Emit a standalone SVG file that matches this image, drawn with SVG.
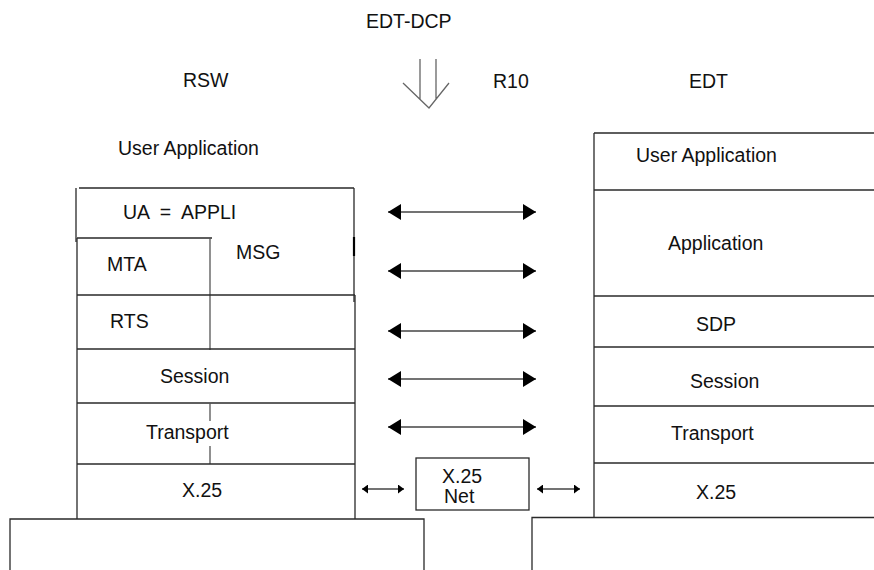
<svg xmlns="http://www.w3.org/2000/svg" width="874" height="570" viewBox="0 0 874 570">
<style>
text{font-family:"Liberation Sans",Arial,sans-serif;font-size:19.5px;fill:#111}
.ln{stroke:#2a2a2a;stroke-width:1.3;fill:none}
.dv{stroke:#555;stroke-width:1.3;fill:none}
.ar{stroke:#444;stroke-width:1.6;fill:none}
.dn{stroke:#666;stroke-width:1.3;fill:none}
</style>
<defs>
<marker id="ah" markerUnits="userSpaceOnUse" markerWidth="13" markerHeight="16" refX="13" refY="8" orient="auto-start-reverse"><path d="M0,0 L13,8 L0,16 Z" fill="#000"/></marker>
<marker id="ahs" markerUnits="userSpaceOnUse" markerWidth="6" markerHeight="9" refX="6" refY="4.5" orient="auto-start-reverse"><path d="M0,0 L6,4.5 L0,9 Z" fill="#000"/></marker>
</defs>
<rect width="874" height="570" fill="#fff"/>

<g id="titles">
<text x="366" y="28">EDT-DCP</text>
<text x="183" y="87">RSW</text>
<text x="493" y="88">R10</text>
<text x="689" y="88">EDT</text>
<text x="118" y="155">User Application</text>
</g>

<g id="rsw-ua">
<path class="ln" d="M79,188 H354 M76,188 V242 M354,188 V302"/>
<path d="M354,237 V256" stroke="#000" stroke-width="2.2"/>
<text x="123" y="219" xml:space="preserve">UA  =  APPLI</text>
</g>
<g id="rsw-mta">
<path class="ln" d="M77,238 H212 M77,238 V519"/>
<path class="dv" d="M210,238 V350"/>
<text x="107" y="271">MTA</text>
</g>
<g id="rsw-msg">
<text x="236" y="259">MSG</text>
</g>
<g id="rsw-rts">
<path class="ln" d="M77,295 H355 M355,295 V519"/>
<text x="110" y="328">RTS</text>
</g>
<g id="rsw-session">
<path class="ln" d="M77,349 H355"/>
<text x="160" y="383">Session</text>
</g>
<g id="rsw-transport">
<path class="ln" d="M77,403 H355"/>
<path class="dv" d="M210,403 V421 M210,446 V464"/>
<text x="146" y="439">Transport</text>
</g>
<g id="rsw-x25">
<path class="ln" d="M77,464 H355"/>
<text x="182" y="497">X.25</text>
</g>
<g id="rsw-base">
<path class="ln" d="M10,570 V519 H424 V570"/>
</g>

<g id="edt-ua">
<path class="ln" d="M594,133 H874 M594,133 V518"/>
<text x="636" y="162">User Application</text>
</g>
<g id="edt-application">
<path class="ln" d="M594,190 H874"/>
<text x="668" y="250">Application</text>
</g>
<g id="edt-sdp">
<path class="ln" d="M594,296 H874"/>
<text x="696" y="331">SDP</text>
</g>
<g id="edt-session">
<path class="ln" d="M594,347 H874"/>
<text x="690" y="388">Session</text>
</g>
<g id="edt-transport">
<path class="ln" d="M594,406 H874"/>
<text x="671" y="440">Transport</text>
</g>
<g id="edt-x25">
<path class="ln" d="M594,463 H874"/>
<text x="696" y="499">X.25</text>
</g>
<g id="edt-base">
<path class="ln" d="M532,570 V517.5 H874"/>
</g>

<g id="x25-net">
<rect class="ln" x="416" y="458" width="113" height="52"/>
<text x="442" y="483">X.25</text>
<text x="444" y="503">Net</text>
</g>

<g id="connectors">
<path class="dn" d="M420,59 V99 M436,59 V99 M403,83 L429,108 L449,83"/>
<line class="ar" x1="388" y1="212" x2="536" y2="212" marker-start="url(#ah)" marker-end="url(#ah)"/>
<line class="ar" x1="388" y1="271" x2="536" y2="271" marker-start="url(#ah)" marker-end="url(#ah)"/>
<line class="ar" x1="388" y1="331" x2="536" y2="331" marker-start="url(#ah)" marker-end="url(#ah)"/>
<line class="ar" x1="388" y1="379" x2="536" y2="379" marker-start="url(#ah)" marker-end="url(#ah)"/>
<line class="ar" x1="388" y1="427" x2="536" y2="427" marker-start="url(#ah)" marker-end="url(#ah)"/>
<line class="ar" x1="362" y1="489" x2="404" y2="489" marker-start="url(#ahs)" marker-end="url(#ahs)"/>
<line class="ar" x1="537" y1="489" x2="580" y2="489" marker-start="url(#ahs)" marker-end="url(#ahs)"/>
</g>
</svg>
